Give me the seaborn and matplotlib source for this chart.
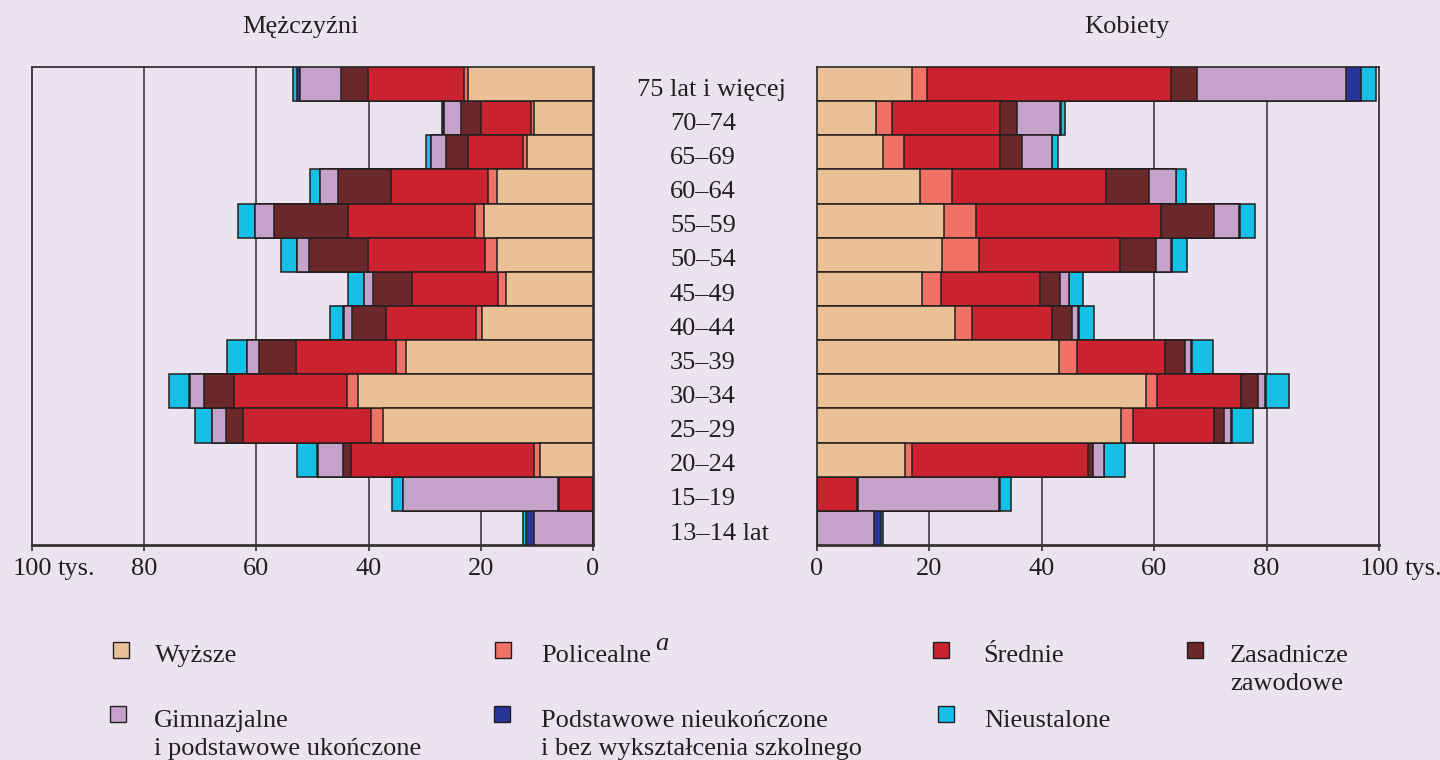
import numpy as np
import pandas as pd
import matplotlib
matplotlib.use("Agg")
import matplotlib.pyplot as plt
import seaborn as sns
from matplotlib.transforms import blended_transform_factory
from matplotlib.patches import Rectangle

sns.set_theme(style="white")
plt.rcParams["font.family"] = ["Liberation Serif", "DejaVu Serif"]

# ---------------- data (thousands) ----------------
age_groups = ["75 lat i więcej", "70–74", "65–69", "60–64", "55–59", "50–54",
              "45–49", "40–44", "35–39", "30–34", "25–29", "20–24", "15–19", "13–14 lat"]

levels = ["Wyższe", "Policealne", "Średnie", "Zasadnicze zawodowe",
          "Gimnazjalne i podstawowe ukończone",
          "Podstawowe nieukończone i bez wykształcenia szkolnego", "Nieustalone"]

# Men (Mężczyźni)
wyzsze_m = [22.2, 10.6, 11.7, 17.1, 19.4, 17.2, 15.5, 19.7, 33.3, 41.9, 37.5, 9.4, 0.0, 0.0]
polic_m  = [0.8, 0.5, 0.8, 1.6, 1.6, 2.0, 1.4, 1.2, 1.9, 1.9, 2.0, 1.2, 0.0, 0.0]
sred_m   = [17.1, 8.9, 9.7, 17.3, 22.7, 20.9, 15.3, 16.0, 17.7, 20.2, 22.8, 32.6, 6.1, 0.0]
zasad_m  = [4.8, 3.6, 4.0, 9.4, 13.1, 10.5, 7.1, 6.1, 6.6, 5.4, 3.2, 1.4, 0.2, 0.0]
gimn_m   = [7.3, 3.0, 2.6, 3.2, 3.4, 2.1, 1.5, 1.4, 2.1, 2.5, 2.4, 4.5, 27.5, 10.5]
podst_m  = [0.5, 0.2, 0.1, 0.1, 0.1, 0.1, 0.1, 0.1, 0.1, 0.1, 0.1, 0.1, 0.1, 1.5]
nieust_m = [0.8, 0.2, 0.8, 1.8, 2.9, 2.9, 2.8, 2.3, 3.5, 3.6, 3.0, 3.6, 1.9, 0.4]

# Women (Kobiety)
wyzsze_k = [16.9, 10.5, 11.7, 18.3, 22.6, 22.3, 18.7, 24.5, 43.0, 58.5, 54.1, 15.6, 0.0, 0.0]
polic_k  = [2.7, 2.8, 3.7, 5.7, 5.7, 6.6, 3.4, 3.1, 3.3, 2.0, 2.1, 1.3, 0.0, 0.0]
sred_k   = [43.4, 19.2, 17.2, 27.4, 32.9, 25.0, 17.5, 14.2, 15.6, 15.0, 14.5, 31.4, 7.1, 0.0]
zasad_k  = [4.7, 3.0, 3.9, 7.7, 9.4, 6.4, 3.6, 3.6, 3.6, 2.9, 1.7, 0.8, 0.2, 0.0]
gimn_k   = [26.5, 7.7, 5.3, 4.7, 4.5, 2.7, 1.6, 1.1, 1.1, 1.4, 1.3, 1.9, 25.1, 10.2]
podst_k  = [2.6, 0.2, 0.1, 0.1, 0.1, 0.1, 0.1, 0.1, 0.1, 0.1, 0.1, 0.1, 0.1, 1.1]
nieust_k = [2.7, 0.8, 0.9, 1.8, 2.7, 2.8, 2.5, 2.6, 3.8, 4.1, 3.7, 3.7, 2.0, 0.5]

tick_values = [0, 20, 40, 60, 80, 100]
tick_labels = ["0", "20", "40", "60", "80", "100"]

# ---------------- style ----------------
BG = "#ECE3F0"
TXT = "#231F20"
EDGE = "#231F20"
colors = ["#EAC196", "#F07165", "#CB222F", "#6A282B", "#C4A2C9", "#283497", "#15BFE6"]
FS = 19

W, H = 1440, 760
fig = plt.figure(figsize=(W / 100, H / 100), dpi=100, facecolor=BG)


def fx(px):
    return px / W


def fy(py):
    return 1 - py / H


axL = fig.add_axes([fx(32), fy(545), (593 - 32) / W, (545 - 67) / H])
axR = fig.add_axes([fx(817), fy(545), (1379 - 817) / W, (545 - 67) / H])

men = [wyzsze_m, polic_m, sred_m, zasad_m, gimn_m, podst_m, nieust_m]
women = [wyzsze_k, polic_k, sred_k, zasad_k, gimn_k, podst_k, nieust_k]


def draw_panel(ax, series):
    cum = np.cumsum(np.array(series, dtype=float), axis=0)
    for k in range(len(levels) - 1, -1, -1):
        df = pd.DataFrame({"grupa": age_groups, "wartosc": cum[k]})
        sns.barplot(data=df, x="wartosc", y="grupa", order=age_groups, orient="h",
                    color=colors[k], saturation=1, width=1.0, errorbar=None,
                    edgecolor=EDGE, linewidth=1.1, ax=ax, zorder=3)
    ax.set_facecolor(BG)
    ax.set_xlabel("")
    ax.set_ylabel("")
    ax.set_yticks([])
    ax.set_ylim(len(age_groups) - 0.5, -0.5)
    ax.set_xticks(tick_values)
    ax.set_xticklabels(tick_labels)
    ax.tick_params(axis="x", bottom=True, direction="out", length=4.5, width=1.2,
                   color="#333333", pad=5, labelsize=FS, labelcolor=TXT)
    for v in tick_values[1:-1]:
        ax.axvline(v, color="#4A4A4A", lw=1.3, zorder=1)
    for s in ax.spines.values():
        s.set_visible(True)
        s.set_color("#333333")
        s.set_linewidth(1.3)
    ax.spines["bottom"].set_linewidth(2.0)
    ax.annotate("tys.", xy=(100, 0), xycoords=("data", "axes fraction"),
                xytext=(18.5, -9.5), textcoords="offset points",
                ha="left", va="top", fontsize=FS, color=TXT)


draw_panel(axL, men)
axL.set_xlim(100, 0)
axL.spines["right"].set_linewidth(2.0)
draw_panel(axR, women)
axR.set_xlim(0, 100)

# Titles
fig.text(fx(300), fy(33), "Mężczyźni", ha="center", va="baseline", fontsize=FS, color=TXT)
fig.text(fx(1127), fy(33), "Kobiety", ha="center", va="baseline", fontsize=FS, color=TXT)

# Age group labels between panels
trans = blended_transform_factory(fig.transFigure, axL.transData)
for i, lab in enumerate(age_groups):
    x = fx(637) if i == 0 else fx(670)
    axL.text(x, i + 0.34, lab, transform=trans, ha="left", va="baseline",
             fontsize=FS, color=TXT, clip_on=False)

# Legend (manual layout)
legend_items = [
    (121, 650, ["Wyższe"], 155, 662, 0),
    (503, 650, ["Policealne"], 541, 662, 1),
    (941, 650, ["Średnie"], 983, 662, 2),
    (1195, 650, ["Zasadnicze", "zawodowe"], 1230, 662, 3),
    (118, 714, ["Gimnazjalne", "i podstawowe ukończone"], 154, 727, 4),
    (502, 714, ["Podstawowe nieukończone", "i bez wykształcenia szkolnego"], 541, 727, 5),
    (946, 714, ["Nieustalone"], 984, 727, 6),
]
sq = 16
for cx, cy, lines, tx, ty, k in legend_items:
    fig.add_artist(Rectangle((fx(cx - sq / 2), fy(cy + sq / 2)), sq / W, sq / H,
                             transform=fig.transFigure, facecolor=colors[k],
                             edgecolor=EDGE, linewidth=1.0))
    for j, line in enumerate(lines):
        fig.text(fx(tx), fy(ty + j * 28.5), line, ha="left", va="baseline",
                 fontsize=FS, color=TXT)
fig.text(fx(655), fy(650), "a", ha="left", va="baseline", fontsize=FS,
         style="italic", color=TXT)

fig.savefig("out.png", dpi=100, facecolor=BG)
